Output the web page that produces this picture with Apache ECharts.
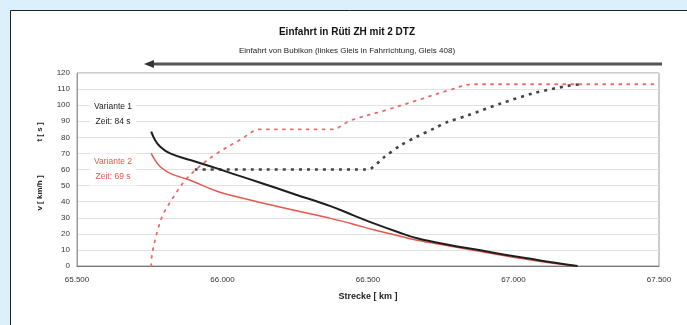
<!DOCTYPE html>
<html>
<head>
<meta charset="utf-8">
<script src="https://cdn.jsdelivr.net/npm/echarts@6/dist/echarts.min.js"></script>
<style>
  html, body { margin: 0; padding: 0; background: #dcf0fb; }
  #chart { width: 687px; height: 325px; }
</style>
</head>
<body>
<div id="chart"></div>
<script>
// Strecke [km] / Geschwindigkeit [km/h] – Variante 1 (schwarz)
const v1 = [[65.755,83.5],[65.768,78.4],[65.786,74.2],[65.82,70],[65.889,65.9],[65.981,60.7],[66.05,56.5],[66.13,51.8],[66.25,44.5],[66.371,37.2],[66.45,31.5],[66.52,26.5],[66.6,21.3],[66.669,17.2],[66.78,13],[66.887,9.8],[66.97,7],[67.059,4.5],[67.13,2.3],[67.22,0]];
// Variante 2 (rot)
const v2 = [[65.755,70],[65.768,65.9],[65.786,61.7],[65.82,57.6],[65.889,53.3],[65.981,46.5],[66.05,43],[66.13,39.5],[66.25,34.5],[66.371,29.6],[66.45,26],[66.52,22.5],[66.6,19],[66.669,16],[66.78,12.5],[66.887,9],[66.97,6.3],[67.059,3.7],[67.13,1.8],[67.22,0]];
// Zeit [s] – Variante 1 (schwarz punktiert)
const t1 = [[65.905,60],[66.497,60],[66.554,67.5],[66.612,75],[66.669,80.5],[66.727,85.5],[66.773,89.5],[66.841,93.5],[66.956,101],[67.071,107.5],[67.186,112],[67.232,113]];
// Zeit [s] – Variante 2 (rot punktiert)
const t2 = [[65.755,0],[65.757,6],[65.763,12],[65.771,18],[65.78,24],[65.797,32.5],[65.832,43],[65.866,52],[65.912,60.5],[65.981,70],[66.061,78.5],[66.13,85],[66.377,85],[66.44,90.5],[66.554,96.5],[66.669,103],[66.773,109],[66.863,113],[67.5,113]];

const xTicks = { min: 65.5, max: 67.5, step: 0.5 };
const yTicks = { min: 0, max: 120, step: 10 };

const titleText = 'Einfahrt in Rüti ZH mit 2 DTZ';
const subtitleText = 'Einfahrt von Bubikon (linkes Gleis in Fahrrichtung, Gleis 408)';
const labelV1 = 'Variante 1\nZeit: 84 s';
const labelV2 = 'Variante 2\nZeit: 69 s';

const FONT = '"Liberation Sans", Arial, sans-serif';
const BLACK = '#1e1e1e';
const RED = '#e8564c';

const chart = echarts.init(document.getElementById('chart'), null, { renderer: 'canvas' });

chart.setOption({
  backgroundColor: '#dcf0fb',
  animation: false,
  grid: { left: 77, right: 28, top: 73, bottom: 59, show: true, borderColor: '#9a9a9a', borderWidth: 1, backgroundColor: '#fff' },
  xAxis: {
    type: 'value',
    min: xTicks.min, max: xTicks.max, interval: xTicks.step,
    name: 'Strecke [ km ]', nameLocation: 'middle', nameGap: 26,
    nameTextStyle: { fontFamily: FONT, fontSize: 9, fontWeight: 'bold', color: '#222' },
    axisLine: { lineStyle: { color: '#777', width: 1 } },
    axisTick: { show: false },
    splitLine: { show: false },
    axisLabel: {
      fontFamily: FONT, fontSize: 8, color: '#333', margin: 10,
      formatter: v => v.toFixed(3)
    }
  },
  yAxis: {
    type: 'value',
    min: yTicks.min, max: yTicks.max, interval: yTicks.step,
    axisLine: { show: true, lineStyle: { color: '#999' } },
    axisTick: { show: false },
    splitLine: { lineStyle: { color: '#e2e2e2', width: 1 } },
    axisLabel: { fontFamily: FONT, fontSize: 8, color: '#333', margin: 7 }
  },
  graphic: [
    { type: 'rect', z: -10, shape: { x: 10.5, y: 10.5, width: 700, height: 340 },
      style: { fill: '#fff', stroke: '#222', lineWidth: 1 } },
    { type: 'text', z: 50, x: 347, y: 32, style: { text: titleText, font: 'bold 10px ' + FONT, fill: '#111', align: 'center', verticalAlign: 'middle' } },
    { type: 'text', z: 50, x: 347, y: 51, style: { text: subtitleText, font: '8px ' + FONT, fill: '#222', align: 'center', verticalAlign: 'middle' } },
    // direction arrow
    { type: 'line', z: 50, shape: { x1: 152, y1: 64, x2: 662, y2: 64 }, style: { stroke: '#555', lineWidth: 3 } },
    { type: 'polygon', z: 50, shape: { points: [[144, 64], [154, 60], [154, 68]] }, style: { fill: '#333' } },
    // rotated axis titles
    { type: 'text', z: 50, x: 40, y: 132, rotation: Math.PI / 2, style: { text: 't [ s ]', font: 'bold 8px ' + FONT, fill: '#222', align: 'center', verticalAlign: 'middle' } },
    { type: 'text', z: 50, x: 40, y: 193, rotation: Math.PI / 2, style: { text: 'v [ km/h ]', font: 'bold 8px ' + FONT, fill: '#222', align: 'center', verticalAlign: 'middle' } },
    // variant annotations
    { type: 'text', z: 50, x: 113, y: 114.5, style: { text: labelV1, font: '8.5px ' + FONT, lineHeight: 15, fill: '#222', align: 'center', verticalAlign: 'middle', backgroundColor: '#fff', padding: [1, 4] } },
    { type: 'text', z: 50, x: 113, y: 169.5, style: { text: labelV2, font: '8.5px ' + FONT, lineHeight: 15, fill: RED, align: 'center', verticalAlign: 'middle', backgroundColor: '#fff', padding: [1, 4] } }
  ],
  series: [
    { name: 't2', type: 'line', data: t2, symbol: 'none', smooth: 0.35, z: 3,
      lineStyle: { color: '#ea6b68', width: 1.8, type: [2, 6], cap: 'round' } },
    { name: 't1', type: 'line', data: t1, symbol: 'none', smooth: 0.3, z: 4,
      lineStyle: { color: '#444', width: 2.6, type: [3, 5] } },
    { name: 'v2', type: 'line', data: v2, symbol: 'none', smooth: 0.4, z: 5,
      lineStyle: { color: RED, width: 1.5 } },
    { name: 'v1', type: 'line', data: v1, symbol: 'none', smooth: 0.4, z: 6,
      lineStyle: { color: BLACK, width: 2 } }
  ]
});
</script>
</body>
</html>
